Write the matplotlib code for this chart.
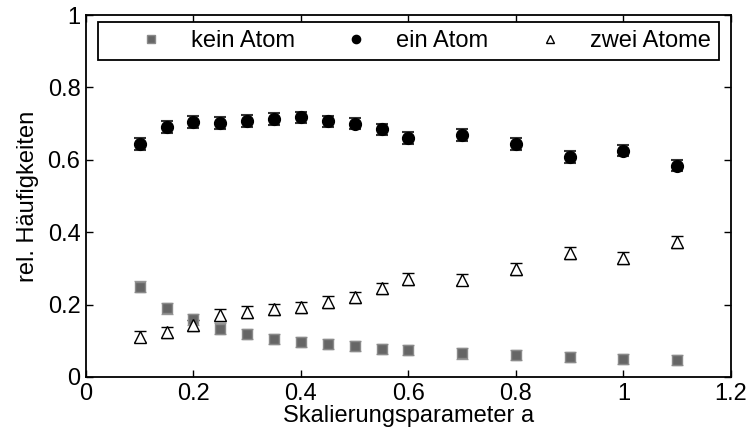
import matplotlib
matplotlib.use("Agg")
from matplotlib import pyplot as plt

plt.rcParams['font.family'] = ['Liberation Sans', 'DejaVu Sans']

# Skalierungsparameter
a = [0.1, 0.15, 0.2, 0.25, 0.3, 0.35, 0.4, 0.45, 0.5, 0.55, 0.6, 0.7, 0.8, 0.9, 1.0, 1.1]

# relative Haeufigkeiten
kein = [0.250, 0.190, 0.160, 0.133, 0.119, 0.105, 0.096, 0.091, 0.086, 0.077, 0.074,
        0.065, 0.060, 0.055, 0.050, 0.047]
ein = [0.643, 0.690, 0.705, 0.702, 0.708, 0.712, 0.717, 0.706, 0.700, 0.684, 0.661,
       0.669, 0.644, 0.608, 0.625, 0.584]
zwei = [0.111, 0.124, 0.143, 0.171, 0.179, 0.187, 0.192, 0.207, 0.220, 0.245, 0.270,
        0.269, 0.298, 0.342, 0.329, 0.372]

kein_err = [0.016, 0.015, 0.015, 0.015, 0.014, 0.014, 0.014, 0.014, 0.014, 0.014, 0.014,
            0.014, 0.014, 0.014, 0.014, 0.014]
ein_err = [0.016, 0.016, 0.016, 0.016, 0.016, 0.016, 0.016, 0.016, 0.016, 0.016, 0.016,
           0.016, 0.016, 0.016, 0.015, 0.015]
zwei_err = [0.015, 0.015, 0.015, 0.016, 0.016, 0.016, 0.016, 0.016, 0.016, 0.016, 0.017,
            0.016, 0.017, 0.017, 0.017, 0.017]

fig = plt.figure(figsize=(7.49, 4.47), dpi=100)
ax = fig.add_axes([0.1148, 0.1566, 0.8611, 0.8098])

k = ax.errorbar(a, kein, yerr=kein_err, fmt='s', mfc='#666666', mec='#8a8a8a', mew=1,
                ecolor='#999999', ms=7.5, capsize=4, elinewidth=1, capthick=1.5)
e = ax.errorbar(a, ein, yerr=ein_err, fmt='o', color='black', ecolor='#333333',
                ms=8.5, capsize=4, elinewidth=1, capthick=1.5)
z = ax.errorbar(a, zwei, yerr=zwei_err, fmt='^', mfc='white', mec='black', ecolor='black',
                ms=8.5, mew=1, capsize=4, elinewidth=1, capthick=1.5)

ax.set_xlim(0, 1.2)
ax.set_ylim(0, 1)
ax.set_xticks([0, 0.2, 0.4, 0.6, 0.8, 1, 1.2])
ax.set_xticklabels(['0', '0.2', '0.4', '0.6', '0.8', '1', '1.2'])
ax.set_yticks([0, 0.2, 0.4, 0.6, 0.8, 1])
ax.set_yticklabels(['0', '0.2', '0.4', '0.6', '0.8', '1'])
ax.tick_params(direction='in', top=True, right=True, length=5, width=1, labelsize=17, pad=4)
for sp in ax.spines.values():
    sp.set_linewidth(1.3)

ax.set_xlabel('Skalierungsparameter a', fontsize=17, labelpad=0)
ax.set_ylabel('rel. Häufigkeiten', fontsize=17, labelpad=6)

# legend shows markers only, no error bars
leg = ax.legend([k[0], e[0], z[0]], ['kein Atom', 'ein Atom', 'zwei Atome'],
                loc='upper left', ncol=3, mode='expand', fontsize=17, frameon=True,
                fancybox=False, edgecolor='black', framealpha=1, markerscale=0.7,
                handlelength=3.8, handletextpad=-0.2, borderpad=0.35,
                bbox_to_anchor=(0.0186, 0.876, 0.9628, 0.105), borderaxespad=0)
leg.get_frame().set_linewidth(1.3)

fig.savefig('out.png', dpi=100)
